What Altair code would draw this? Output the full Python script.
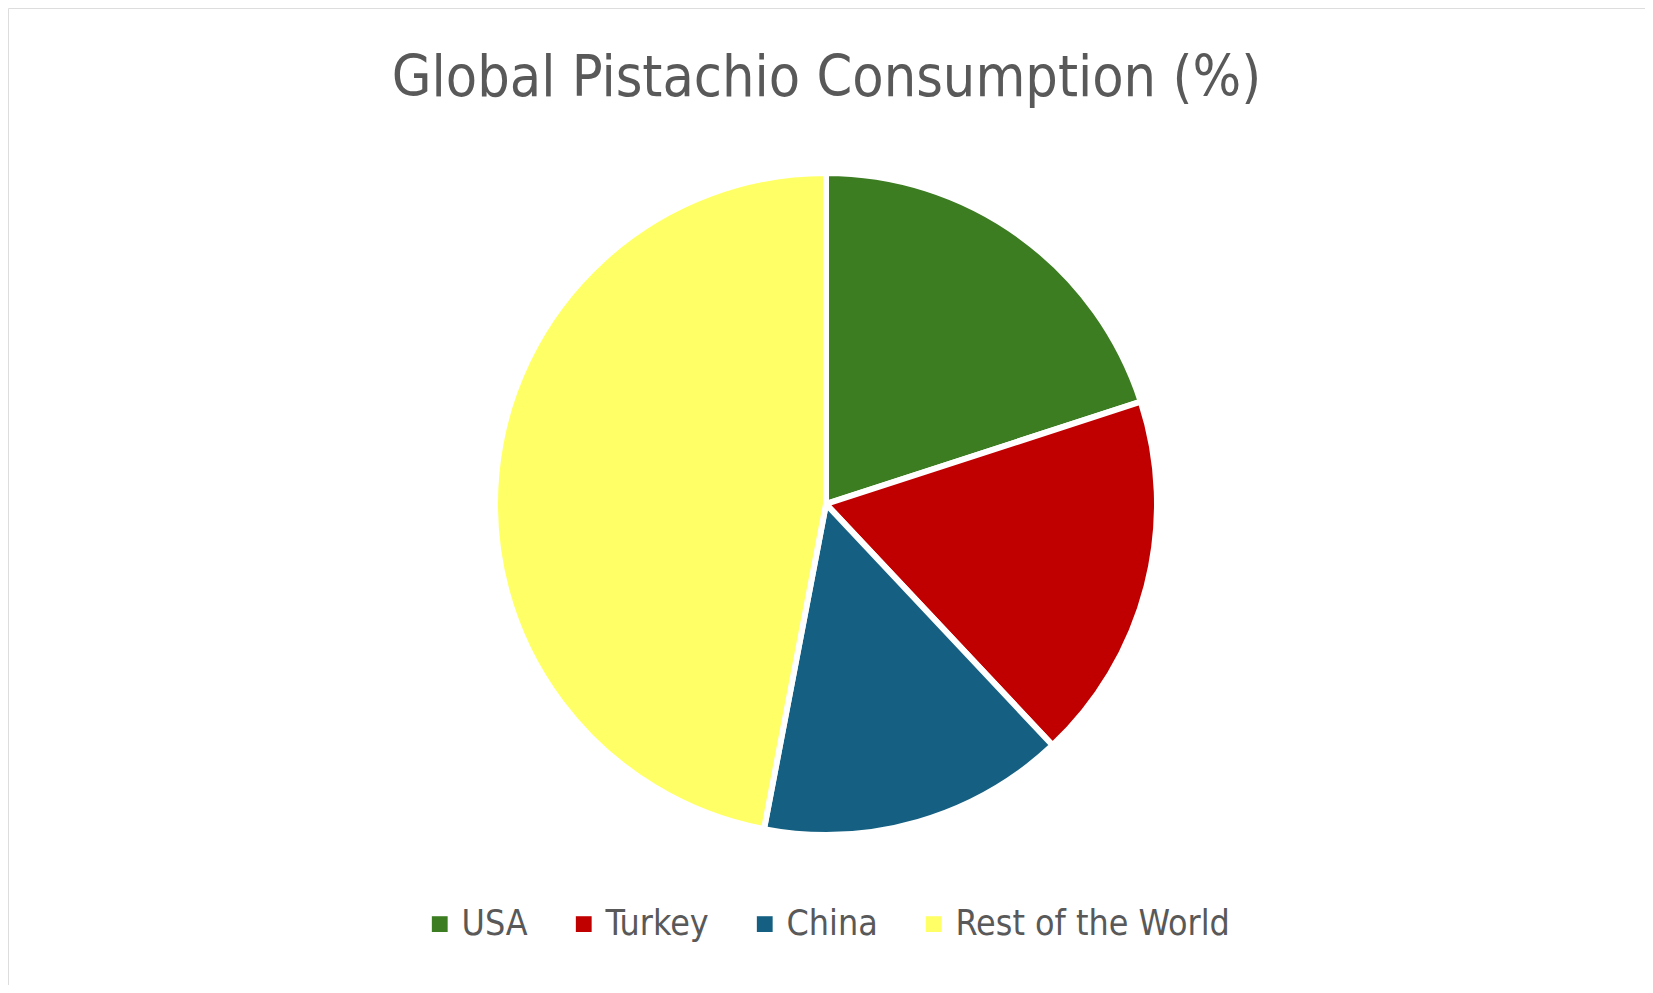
import altair as alt
import pandas as pd

regions = ["USA", "Turkey", "China", "Rest of the World"]
shares = [20, 18, 15, 47]
colors = ["#3C7D22", "#C00000", "#156082", "#FFFF66"]

df = pd.DataFrame({"Region": regions, "Share": shares, "idx": list(range(len(regions)))})

FONT = "Liberation Sans Narrow, DejaVu Sans Condensed, Roboto, sans-serif"

chart = alt.Chart(df).mark_arc(
    outerRadius=331, stroke="white", strokeWidth=6
).encode(
    theta=alt.Theta("Share:Q", stack=True),
    order=alt.Order("idx:Q"),
    x=alt.value(818),
    y=alt.value(496),
    color=alt.Color(
        "Region:N",
        sort=regions,
        scale=alt.Scale(domain=regions, range=colors),
        legend=alt.Legend(
            title=None,
            orient="none",
            direction="horizontal",
            legendX=414,
            legendY=898,
            symbolType="square",
            symbolSize=250,
            symbolStrokeWidth=0,
            labelFont=FONT,
            labelFontSize=35.5,
            labelColor="#595959",
            labelOffset=4,
            labelLimit=0,
            columnPadding=38,
            padding=0,
        ),
    ),
).properties(
    width=1637,
    height=977,
    autosize=alt.AutoSizeParams(type="none"),
    padding=0,
    title=alt.TitleParams(
        "Global Pistachio Consumption (%)",
        font=FONT,
        fontSize=57,
        fontWeight="normal",
        color="#595959",
        anchor="middle",
        offset=-100,
    ),
).configure_view(
    stroke="#D9D9D9", strokeWidth=2
).configure(background="white")

chart.save("out.html", embed_options={"renderer": "svg", "actions": False})
